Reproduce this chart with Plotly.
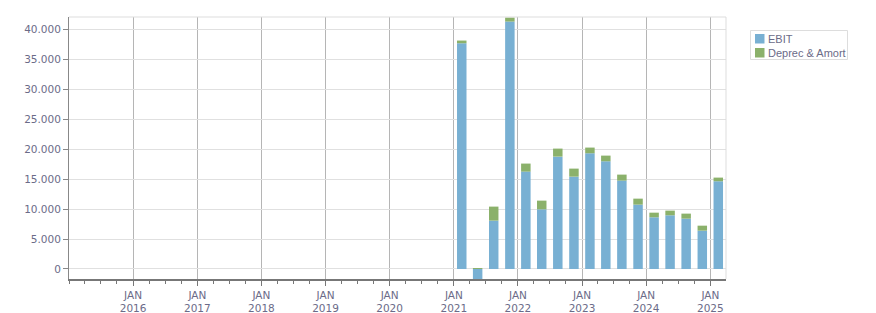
import plotly.graph_objects as go

quarters = ["2021-01-01", "2021-04-01", "2021-07-01", "2021-10-01",
            "2022-01-01", "2022-04-01", "2022-07-01", "2022-10-01",
            "2023-01-01", "2023-04-01", "2023-07-01", "2023-10-01",
            "2024-01-01", "2024-04-01", "2024-07-01", "2024-10-01",
            "2025-01-01"]
ebit = [37670, -2000, 8070, 41290, 16250, 9960, 18750, 15410,
        19310, 17970, 14750, 10740, 8630, 8960, 8400, 6400, 14640]
deprec = [450, 120, 2340, 670, 1340, 1450, 1340, 1340,
          950, 950, 1000, 1000, 770, 780, 840, 830, 610]
series_names = ["EBIT", "Deprec & Amort"]

year_ticks = ["2016-01-01", "2017-01-01", "2018-01-01", "2019-01-01", "2020-01-01",
              "2021-01-01", "2022-01-01", "2023-01-01", "2024-01-01", "2025-01-01"]
year_labels = ["JAN<br>2016", "JAN<br>2017", "JAN<br>2018", "JAN<br>2019", "JAN<br>2020",
               "JAN<br>2021", "JAN<br>2022", "JAN<br>2023", "JAN<br>2024", "JAN<br>2025"]
y_ticks = [0, 5000, 10000, 15000, 20000, 25000, 30000, 35000, 40000]

BLUE = "#78b0d3"
GREEN = "#8bb16b"
TXT = "#6b6b88"
bar_w = 54 * 86400000

# plot area in pixels
L, R, T, B = 69, 726, 17, 279


def px(xp):
    return (xp - L) / (R - L)


def py(yp):
    return (B - yp) / (B - T)


fig = go.Figure()
fig.add_trace(go.Bar(x=quarters, y=ebit, name=series_names[0], marker_color=BLUE,
                     marker_line_width=0, width=bar_w,
                     xperiod="M3", xperiodalignment="middle"))
fig.add_trace(go.Bar(x=quarters, y=deprec, name=series_names[1], marker_color=GREEN,
                     marker_line_width=0, width=bar_w,
                     xperiod="M3", xperiodalignment="middle"))

fig.update_layout(
    width=876, height=313,
    margin=dict(l=L, r=876 - R, t=T, b=313 - B, autoexpand=False),
    barmode="relative",
    paper_bgcolor="white", plot_bgcolor="white",
    separators=",.",
    font=dict(family="DejaVu Sans", size=11, color=TXT),
    showlegend=False,
)
fig.update_xaxes(
    type="date", range=["2015-01-01", "2025-03-31"],
    tickmode="array", tickvals=year_ticks, ticktext=year_labels,
    showgrid=True, gridcolor="#b5b5b5", gridwidth=1,
    ticks="outside", ticklen=5, tickcolor="#777777",
    minor=dict(dtick="M3", tick0="2015-01-01", ticks="outside", ticklen=3,
               tickcolor="#777777", showgrid=False),
    showline=True, linecolor="#777777", linewidth=2,
    mirror=False, zeroline=False, automargin=False,
    tickfont=dict(size=10.5, color=TXT),
)
fig.update_yaxes(
    range=[-1670, 42050],
    tickmode="array", tickvals=y_ticks, tickformat=",d",
    showgrid=True, gridcolor="#e0e0e0", gridwidth=1,
    ticks="outside", ticklen=5, tickcolor="#888888",
    showline=True, linecolor="#888888", linewidth=1,
    zeroline=False, automargin=False,
    tickfont=dict(size=10.5, color=TXT),
)
# top and right borders of the plot area
fig.add_shape(type="line", xref="paper", yref="paper", x0=0, x1=1, y0=1, y1=1,
              line=dict(color="#dddddd", width=1))
fig.add_shape(type="line", xref="paper", yref="paper", x0=1, x1=1, y0=0, y1=1,
              line=dict(color="#dddddd", width=1))

# legend box
fig.add_shape(type="rect", xref="paper", yref="paper",
              x0=px(750.5), x1=px(847.5), y0=py(59.5), y1=py(30.5),
              line=dict(color="#dddddd", width=1), fillcolor="white")
for i, (nm, col) in enumerate(zip(series_names, [BLUE, GREEN])):
    top = 34 + 14 * i
    fig.add_shape(type="rect", xref="paper", yref="paper",
                  x0=px(755), x1=px(764.5), y0=py(top + 9.5), y1=py(top),
                  line=dict(width=0), fillcolor=col)
    fig.add_annotation(xref="paper", yref="paper", x=px(766), y=py(top + 4.9),
                       xanchor="left", yanchor="middle", showarrow=False,
                       text=nm, font=dict(family="Liberation Sans", size=11, color=TXT))

fig.write_html("out.html")
